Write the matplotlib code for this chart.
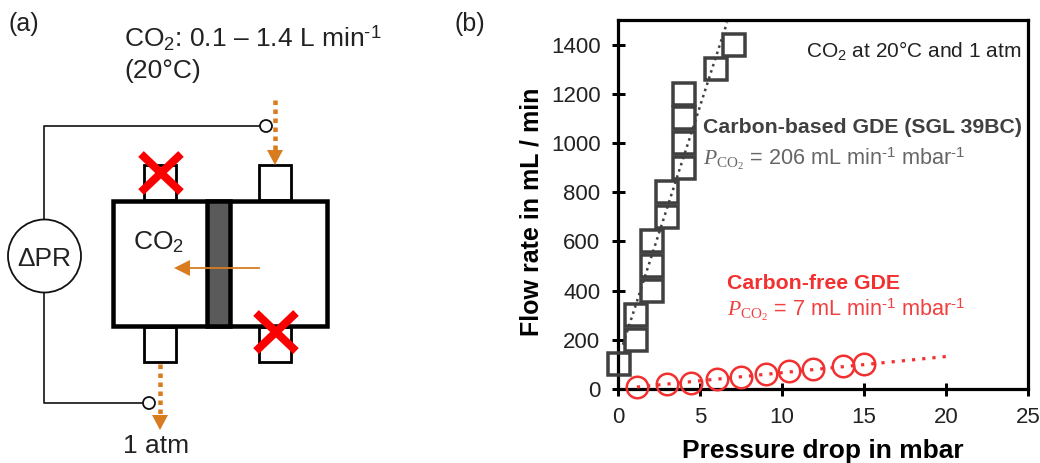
import matplotlib
matplotlib.use('Agg')
import matplotlib.pyplot as plt
from matplotlib.patches import Rectangle, Circle, Polygon

plt.rcParams['font.family'] = ['Liberation Sans', 'DejaVu Sans']
plt.rcParams['mathtext.fontset'] = 'custom'
plt.rcParams['mathtext.rm'] = 'Liberation Sans'
plt.rcParams['mathtext.it'] = 'Liberation Serif:italic'
plt.rcParams['mathtext.sf'] = 'Liberation Serif'

# carbon-based GDE
based_dp = [0.05, 1.1, 1.1, 2.05, 2.05, 2.05, 3.0, 3.0, 4.0, 4.0, 4.0, 4.0, 6.0, 7.05]
based_flow = [100, 200, 300, 400, 500, 600, 700, 800, 900, 1000, 1100, 1200, 1300, 1400]
based_fit_dp = [0.3, 6.65]
based_fit_flow = [180, 1490]

# carbon-free GDE
free_dp = [1.15, 3.0, 4.45, 6.05, 7.5, 9.0, 10.4, 11.9, 13.7, 15.0]
free_flow = [10, 19, 26, 40, 50, 61, 72, 81, 93, 101]
free_fit_dp = [1.15, 20]
free_fit_flow = [8, 132]

x_ticks = [0, 5, 10, 15, 20, 25]
y_ticks = [0, 200, 400, 600, 800, 1000, 1200, 1400]

GREY = '#404040'
RED = '#f23030'
ORANGE = '#d97c1f'
INK = '#222222'
W, H = 1040, 463
px = 72 / 100  # line widths are read in pixels

fig = plt.figure(figsize=(W / 100, H / 100), dpi=100)

# panel (a), drawn in pixel coordinates
sk = fig.add_axes([0, 0, 1, 1])
sk.set_xlim(0, W)
sk.set_ylim(H, 0)
sk.axis('off')


def box(x0, y0, x1, y1, lw, fc='white', ec='black', z=2):
    sk.add_patch(Rectangle((x0, y0), x1 - x0, y1 - y0, fc=fc, ec=ec, lw=lw * px, zorder=z,
                           joinstyle='miter'))


def flow(x, y0, y1):
    sk.plot([x, x], [y0, y1], color=ORANGE, lw=4.5 * px, ls=(0, (1, 1)), zorder=5)
    sk.add_patch(Polygon([(x - 8, y1), (x + 8, y1), (x, y1 + 15)], fc=ORANGE, ec='none', zorder=5))


# wires
sk.plot([44, 44, 266], [222, 126, 126], color=INK, lw=1.8 * px, zorder=1)
sk.plot([44, 44, 149], [290, 403, 403], color=INK, lw=1.8 * px, zorder=1)

# stubs
for x0 in [144, 259]:
    box(x0, 165, x0 + 32, 200, 2.8)
    box(x0, 327, x0 + 32, 362, 2.8)

# cell body
box(113, 201, 327, 326, 4.5, z=3)
box(207, 201, 230, 326, 4.5, fc='#5a5a5a', z=3)

# blocked ports
for cx, cy in [(161, 173), (276, 332)]:
    sk.plot([cx - 20, cx + 20], [cy - 19, cy + 19], color='#fa0000', lw=8 * px, zorder=6,
            solid_capstyle='butt')
    sk.plot([cx - 20, cx + 20], [cy + 19, cy - 19], color='#fa0000', lw=8 * px, zorder=6,
            solid_capstyle='butt')

flow(275, 100, 150)
flow(160, 364, 415)

# arrow through the GDE
sk.plot([259, 188], [268, 268], color=ORANGE, lw=1.8 * px, zorder=6)
sk.add_patch(Polygon([(174, 268), (190, 260), (190, 276)], fc=ORANGE, ec='none', zorder=6))

sk.add_patch(Circle((44.5, 256), 36.5, fc='white', ec='#111111', lw=1.8 * px, zorder=4))
sk.add_patch(Circle((266, 126), 6, fc='white', ec='#111111', lw=1.8 * px, zorder=7))
sk.add_patch(Circle((149, 403), 6, fc='white', ec='#111111', lw=1.8 * px, zorder=7))

fs = 19
sup = r'$^{\text{-1}}$'
sk.text(9, 31, '(a)', fontsize=18, va='baseline', color=INK)
sk.text(454, 31, '(b)', fontsize=18, va='baseline', color=INK)
sk.text(124, 47, 'CO$_2$: 0.1 – 1.4 L min' + sup, fontsize=fs, va='baseline', color=INK)
sk.text(124, 78, '(20°C)', fontsize=fs, va='baseline', color=INK)
sk.text(133, 249, 'CO$_2$', fontsize=fs, va='baseline', color=INK, zorder=8)
sk.text(44.5, 266, 'ΔPR', fontsize=fs, va='baseline', ha='center', color=INK, zorder=8)
sk.text(123, 453, '1 atm', fontsize=fs, va='baseline', color=INK)

# panel (b)
ax = fig.add_axes([618 / W, 1 - 389 / H, (1028 - 618) / W, (389 - 20) / H])
ax.patch.set_alpha(0)
ax.plot(based_fit_dp, based_fit_flow, color=GREY, lw=2.5 * px, ls=(0, (1, 1.6)), zorder=3)
ax.plot(free_fit_dp, free_fit_flow, color=RED, lw=3.2 * px, ls=(0, (1, 2.2)), zorder=3)
ax.plot(based_dp, based_flow, ls='none', marker='s', ms=21.5 * px, mfc='none', mec=GREY,
        mew=3.5 * px, clip_on=False, zorder=4)
ax.plot(free_dp, free_flow, ls='none', marker='o', ms=21.5 * px, mfc='none', mec=RED,
        mew=2.5 * px, clip_on=False, zorder=5)

ax.set_xlim(0, 25)
ax.set_ylim(0, 1500)
ax.set_xticks(x_ticks)
ax.set_yticks(y_ticks)
ax.tick_params(axis='x', direction='inout', length=13 * px, width=3 * px, labelsize=16,
               pad=8, labelcolor=INK)
ax.tick_params(axis='y', direction='inout', length=13 * px, width=3 * px, labelsize=16,
               pad=8, labelcolor=INK)
for s in ax.spines.values():
    s.set_linewidth(3.2 * px)
ax.set_xlabel('Pressure drop in mbar', fontsize=19, fontweight='bold', labelpad=8)
ax.set_ylabel('Flow rate in mL / min', fontsize=18, fontweight='bold', labelpad=5, y=0.481)

top = fig.add_axes([0, 0, 1, 1])
top.set_xlim(0, W)
top.set_ylim(H, 0)
top.axis('off')
top.text(1021, 57, 'CO$_2$ at 20°C and 1 atm', fontsize=15, va='baseline', ha='right', color=INK)
top.text(703, 133, 'Carbon-based GDE (SGL 39BC)', fontsize=15.3, fontweight='bold', va='baseline', color=GREY)
top.text(703, 165, r'$\mathit{P}_{\mathsf{CO_2}}$ = 206 mL min' + sup + ' mbar' + sup, fontsize=15.6,
         va='baseline', color='#666666')
top.text(727, 289, 'Carbon-free GDE', fontsize=15.3, fontweight='bold', va='baseline', color=RED)
top.text(727, 316, r'$\mathit{P}_{\mathsf{CO_2}}$ = 7 mL min' + sup + ' mbar' + sup, fontsize=15.6,
         va='baseline', color='#f04040')

fig.savefig('out.png', dpi=100)
